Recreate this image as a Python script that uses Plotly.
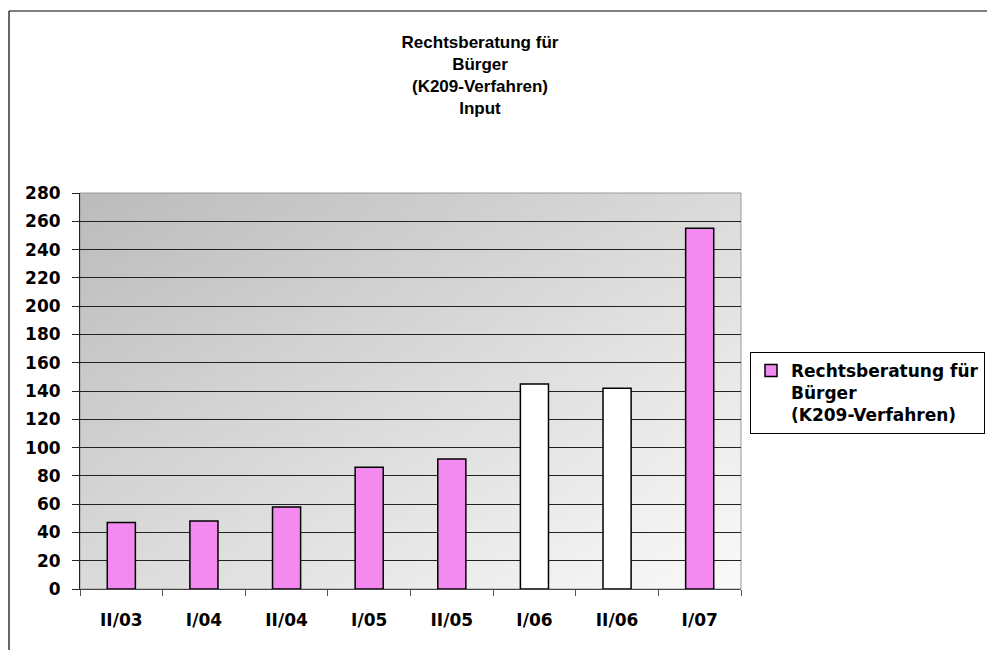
import base64
import plotly.graph_objects as go

categories = ["II/03", "I/04", "II/04", "I/05", "II/05", "I/06", "II/06", "I/07"]
values = [47, 48, 58, 86, 92, 145, 142, 255]
bar_colors = ["#F28AF0", "#F28AF0", "#F28AF0", "#F28AF0", "#F28AF0", "#FFFFFF", "#FFFFFF", "#F28AF0"]
series_name = "Rechtsberatung für<br>Bürger<br>(K209-Verfahren)"
title_text = "Rechtsberatung für<br>Bürger<br>(K209-Verfahren)<br>Input"
y_ticks = list(range(0, 281, 20))

TITLE_FONT = "Liberation Sans, Arial, sans-serif"
TICK_FONT = "DejaVu Sans, sans-serif"

# plot area in figure pixels (page body adds an 8px offset)
L, T, W, H = 72, 185, 661, 396
FIG_W, FIG_H = 995, 650

svg = (
    '<svg xmlns="http://www.w3.org/2000/svg" width="661" height="396" preserveAspectRatio="none">'
    '<defs><linearGradient id="g" x1="0" y1="0" x2="1" y2="1">'
    '<stop offset="0" stop-color="#BBBBBB"/><stop offset="1" stop-color="#FAFAFA"/>'
    '</linearGradient></defs><rect width="661" height="396" fill="url(#g)"/></svg>'
)
bg_src = "data:image/svg+xml;base64," + base64.b64encode(svg.encode()).decode()


def px_x(x):
    return (x - L) / W


def px_y(y):
    return (T + H - y) / H


fig = go.Figure()
fig.add_trace(go.Bar(
    x=categories, y=values, name=series_name,
    marker=dict(color=bar_colors, line=dict(color="black", width=1.5)),
    showlegend=True,
))

fig.update_layout(
    width=FIG_W, height=FIG_H,
    margin=dict(l=L, r=FIG_W - L - W, t=T, b=FIG_H - T - H),
    paper_bgcolor="white",
    plot_bgcolor="rgba(0,0,0,0)",
    bargap=0.66,
    font=dict(family=TICK_FONT, size=17, color="black"),
    title=dict(
        text="<b>" + title_text + "</b>",
        x=472 / FIG_W, xanchor="center", xref="container",
        y=1 - 40 / FIG_H, yanchor="top", yref="container",
        font=dict(family=TITLE_FONT, size=17, color="black"),
    ),
    legend=dict(
        x=px_x(742), y=px_y(344), xanchor="left", yanchor="top",
        bordercolor="black", borderwidth=1, bgcolor="white",
        valign="top", itemwidth=30,
        font=dict(family=TICK_FONT, size=17, color="black", weight="bold"),
    ),
    images=[dict(
        source=bg_src, xref="paper", yref="paper", x=0, y=1,
        sizex=1, sizey=1, sizing="stretch", layer="below",
        xanchor="left", yanchor="top",
    )],
    shapes=[
        dict(
            type="line", xref="paper", yref="paper",
            x0=px_x(1), x1=px_x(FIG_W), y0=px_y(3), y1=px_y(3),
            line=dict(color="black", width=1.2), layer="below",
        ),
        dict(
            type="line", xref="paper", yref="paper",
            x0=px_x(1), x1=px_x(1), y0=px_y(3), y1=px_y(FIG_H),
            line=dict(color="black", width=1.2), layer="below",
        ),
        dict(
            type="rect", xref="paper", yref="paper",
            x0=0, x1=1, y0=0, y1=1,
            line=dict(color="#999999", width=1), fillcolor="rgba(0,0,0,0)", layer="below",
        ),
    ],
)

fig.update_xaxes(
    type="category",
    showline=True, linecolor="#444444", linewidth=1,
    ticks="outside", tickson="boundaries", ticklen=6, tickcolor="#555555",
    ticklabelstandoff=16,
    tickfont=dict(family=TICK_FONT, size=17, color="black", weight="bold"),
    showgrid=False,
)
fig.update_yaxes(
    range=[0, 280], tickvals=y_ticks, ticktext=[str(v) for v in y_ticks],
    showline=True, linecolor="#222222", linewidth=1,
    ticks="outside", ticklen=7, tickcolor="#222222",
    ticklabelstandoff=8,
    showgrid=True, gridcolor="#222222", gridwidth=1,
    tickfont=dict(family=TICK_FONT, size=17, color="black", weight="bold"),
    zeroline=False,
)

fig.write_html("out.html")
